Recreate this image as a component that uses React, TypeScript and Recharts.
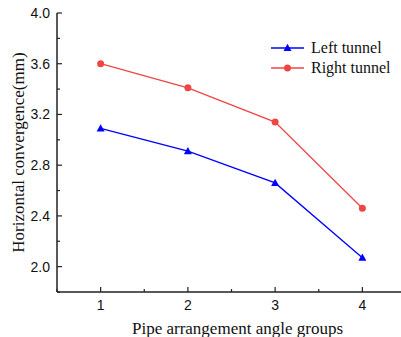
import { Line, LineChart, XAxis, YAxis } from "recharts";

// pipe arrangement angle groups
const groups = [1, 2, 3, 4];
// horizontal convergence (mm)
const leftTunnel = [3.09, 2.91, 2.66, 2.07];
const rightTunnel = [3.6, 3.41, 3.14, 2.46];

const xTicks = [0.5, 1, 1.5, 2, 2.5, 3, 3.5, 4, 4.5];
const yTicks = [1.8, 2.0, 2.2, 2.4, 2.6, 2.8, 3.0, 3.2, 3.4, 3.6, 3.8, 4.0];

const data = groups.map((g, i) => ({
  group: g,
  left: leftTunnel[i],
  right: rightTunnel[i],
}));

const BLUE = "#0000ff";
const RED = "#f04545";
const AXIS = "#222";
const SERIF = "'Liberation Serif', 'Times New Roman', serif";
const SANS = "'Liberation Sans', Arial, sans-serif";

const Triangle = ({ cx, cy, fill }: any) => (
  <polygon
    points={`${cx},${cy - 4.2} ${cx - 4},${cy + 3} ${cx + 4},${cy + 3}`}
    fill={fill}
  />
);

// ticks drawn pointing into the plot, minor ones shorter and unlabeled
const XTick = ({ x, y, payload }: any) => {
  const major = Number.isInteger(payload.value);
  return (
    <g>
      <line x1={x} x2={x} y1={y} y2={y - (major ? 5 : 3)} stroke={AXIS} strokeWidth={1.2} />
      {major && payload.value >= 1 && payload.value <= 4 && (
        <text x={x} y={y + 18} textAnchor="middle" fontSize={14} fontFamily={SANS} fill="#111">
          {payload.value}
        </text>
      )}
    </g>
  );
};

const YTick = ({ x, y, payload }: any) => {
  const major = Math.round(payload.value * 10) % 4 === 0;
  return (
    <g>
      <line x1={x} x2={x + (major ? 5 : 3)} y1={y} y2={y} stroke={AXIS} strokeWidth={1.2} />
      {major && (
        <text x={x - 7} y={y + 5} textAnchor="end" fontSize={14} fontFamily={SANS} fill="#111">
          {payload.value.toFixed(1)}
        </text>
      )}
    </g>
  );
};

const legendRows = [
  { name: "Left tunnel", color: BLUE, marker: "triangle" },
  { name: "Right tunnel", color: RED, marker: "circle" },
];

const ChartLegend = () => (
  <div style={{ position: "absolute", left: 268, top: 38 }}>
    {legendRows.map((r) => (
      <div key={r.name} style={{ display: "flex", alignItems: "center", height: 20 }}>
        <svg width={40} height={20}>
          <line x1={3} x2={36} y1={10} y2={10} stroke={r.color} strokeWidth={1.3} />
          {r.marker === "triangle" ? (
            <Triangle cx={19.5} cy={10} fill={r.color} />
          ) : (
            <circle cx={19.5} cy={10} r={3.5} fill={r.color} />
          )}
        </svg>
        <span style={{ marginLeft: 3, fontSize: 16, fontFamily: SERIF, color: "#111", lineHeight: "20px" }}>
          {r.name}
        </span>
      </div>
    ))}
  </div>
);

export default function App() {
  return (
    <div style={{ position: "absolute", left: 0, top: 0, width: 401, height: 337, overflow: "hidden", background: "#fff" }}>
      <LineChart width={406} height={337} data={data} margin={{ top: 13, right: 0, left: 12, bottom: 15 }}>
        <XAxis
          type="number"
          dataKey="group"
          domain={[0.5, 4.5]}
          ticks={xTicks}
          interval={0}
          allowDataOverflow
          height={30}
          tickSize={0}
          tickMargin={0}
          tickLine={false}
          axisLine={{ stroke: AXIS, strokeWidth: 1.5 }}
          tick={<XTick />}
          label={{
            value: "Pipe arrangement angle groups",
            position: "insideBottom",
            offset: -12,
            dx: 6,
            fontSize: 17,
            fontFamily: SERIF,
            fill: "#111",
          }}
        />
        <YAxis
          type="number"
          domain={[1.8, 4.0]}
          ticks={yTicks}
          interval={0}
          allowDataOverflow
          width={45}
          tickSize={0}
          tickMargin={0}
          tickLine={false}
          axisLine={{ stroke: AXIS, strokeWidth: 1.5 }}
          tick={<YTick />}
          label={{
            value: "Horizontal convergence(mm)",
            angle: -90,
            position: "insideLeft",
            offset: 6,
            style: { textAnchor: "middle" },
            fontSize: 17,
            fontFamily: SERIF,
            fill: "#111",
          }}
        />
        <Line
          dataKey="left"
          name="Left tunnel"
          type="linear"
          stroke={BLUE}
          strokeWidth={1.3}
          dot={(p: any) => <Triangle key={`l${p.index}`} cx={p.cx} cy={p.cy} fill={BLUE} />}
          activeDot={false}
          isAnimationActive={false}
        />
        <Line
          dataKey="right"
          name="Right tunnel"
          type="linear"
          stroke={RED}
          strokeWidth={1.3}
          dot={{ r: 3.5, fill: RED, stroke: "none" }}
          activeDot={false}
          isAnimationActive={false}
        />
      </LineChart>
      <ChartLegend />
    </div>
  );
}
